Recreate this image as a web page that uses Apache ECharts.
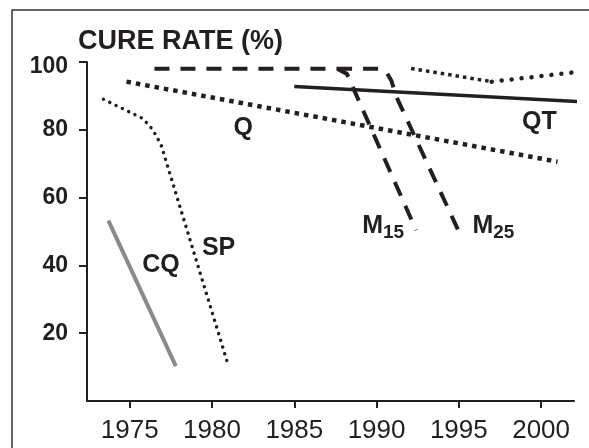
<!DOCTYPE html>
<html><head><meta charset="utf-8">
<script src="https://cdn.jsdelivr.net/npm/echarts@6/dist/echarts.min.js"></script>
<style>html,body{margin:0;padding:0;background:#fff}#c{width:589px;height:448px}</style>
</head><body><div id="c"></div>
<script>
const xTicks = [1975, 1980, 1985, 1990, 1995, 2000];
const yTicks = [20, 40, 60, 80, 100];
const CQ = [[1973.7, 53.2], [1977.8, 10.3]];
const SP = [[1973.4, 89], [1975.8, 83.3], [1976.4, 80], [1976.9, 75.6], [1981, 10.3]];
const Q = [[1974.8, 94.2], [2001, 70.6]];
const M15 = [[1976.5, 98], [1987.6, 98], [1988.2, 96.5], [1992.4, 50.4]];
const M25 = [[1987.6, 98], [1990.2, 98], [1990.6, 97], [1990.9, 94.5], [1991.2, 89.8], [1995, 50]];
const QT = [[1985, 92.8], [2002.5, 88.3]];
const AM1 = [[1992.1, 98.1], [1997, 94.2]];
const AM2 = [[1997, 94.2], [2001.9, 96.9]];
const labels = [
  ['Q', 1981.9, 80.4], ['QT', 1999.9, 82.4], ['AM', 1999.7, 101.3],
  ['CQ', 1976.9, 40.2], ['SP', 1980.4, 45.2],
  ['{m|M}{s|15}', 1990.4, 51.7], ['{m|M}{s|25}', 1997.1, 51.7]
];
const FF = 'Liberation Sans, Arial, Helvetica, sans-serif';
const INK = '#231f20';
const chart = echarts.init(document.getElementById('c'), null, {renderer: 'canvas'});
function line(data, style, extra) {
  return Object.assign({type: 'line', data: data, symbol: 'none', silent: true, animation: false,
    lineStyle: style}, extra || {});
}
chart.setOption({
  animation: false,
  title: {text: 'CURE RATE (%)', left: 73, top: 23,
    textStyle: {fontFamily: FF, fontSize: 27, fontWeight: 'bold', color: INK}},
  graphic: [{type: 'rect', shape: {x: 12, y: 10, width: 700, height: 600},
    style: {fill: 'none', stroke: '#333', lineWidth: 1.5}}],
  grid: {left: 87, right: 15, top: 62, bottom: 47},
  xAxis: {type: 'value', min: 1972.4, max: 2002,
    axisLine: {lineStyle: {color: INK, width: 2}},
    axisTick: {show: true, length: 7, lineStyle: {width: 2}, customValues: xTicks},
    axisLabel: {customValues: xTicks, formatter: v => String(v), fontFamily: FF, fontSize: 26, color: INK, margin: 17},
    splitLine: {show: false}},
  yAxis: {type: 'value', min: 0, max: 100,
    axisLine: {show: true, lineStyle: {color: INK, width: 2}},
    axisTick: {show: true, length: 8, lineStyle: {width: 2}, customValues: yTicks},
    axisLabel: {customValues: yTicks, formatter: v => v === 100 ? '{a|100}' : String(v),
      fontFamily: FF, fontSize: 23, fontWeight: 'bold', color: INK, margin: 19,
      rich: {a: {fontFamily: FF, fontSize: 23, fontWeight: 'bold', color: INK, padding: [10, 0, 0, 0]}}},
    splitLine: {show: false}},
  series: [
    line(CQ, {color: '#8a8a8a', width: 4}),
    line(SP, {color: INK, width: 3.5, type: [0.01, 7], cap: 'round'}),
    line(Q, {color: INK, width: 4.5, type: [4.5, 5], cap: 'butt'}),
    line(M15, {color: INK, width: 4, type: [15, 11], cap: 'butt'}),
    line(M25, {color: INK, width: 4, type: [15, 11], cap: 'butt'}),
    line(QT, {color: INK, width: 3.5}, {clip: false}),
    line(AM1, {color: INK, width: 3.5, type: [3.5, 4], cap: 'butt'}),
    line(AM2, {color: INK, width: 4.5, type: [0.01, 10], cap: 'round'}),
    {type: 'scatter', symbolSize: 0, silent: true, animation: false,
      itemStyle: {opacity: 1, color: INK},
      data: labels.map(l => ({value: [l[1], l[2]], name: l[0]})),
      label: {show: true, position: 'inside', formatter: p => p.name, opacity: 1,
        fontFamily: FF, fontSize: 25, fontWeight: 'bold', color: INK,
        rich: {m: {fontFamily: FF, fontSize: 25, fontWeight: 'bold', color: INK},
               s: {fontFamily: FF, fontSize: 19, fontWeight: 'bold', color: INK, padding: [14, 0, 0, 0]}}}}
  ]
});
</script></body></html>
